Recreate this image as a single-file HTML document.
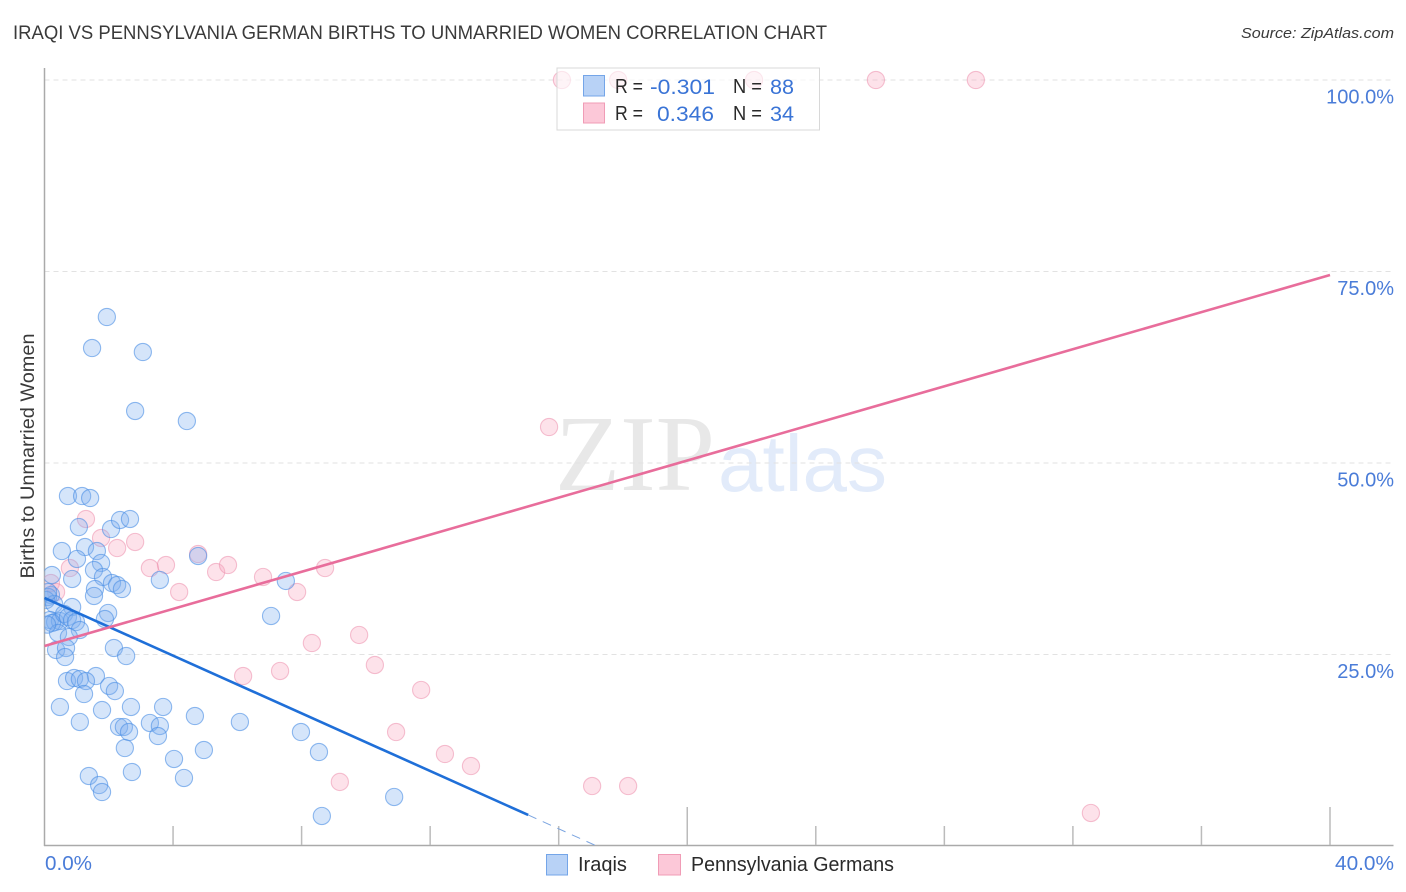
<!DOCTYPE html>
<html lang="en">
<head>
<meta charset="utf-8">
<title>Iraqi vs Pennsylvania German Births to Unmarried Women Correlation Chart</title>
<style>
html,body{margin:0;padding:0;background:#fff;width:1406px;height:892px;overflow:hidden}
svg{display:block;font-family:"Liberation Sans",Arial,sans-serif}
</style>
</head>
<body>
<svg id="chart" width="1406" height="892" viewBox="0 0 1406 892" xmlns="http://www.w3.org/2000/svg">
  <defs>
    <clipPath id="plot-clip"><rect x="44.5" y="60" width="1349" height="786"/></clipPath>
  </defs>
  <rect x="0" y="0" width="1406" height="892" fill="#fff"/>
  <text x="13" y="39" font-size="19" fill="#3a3a3a" textLength="814" lengthAdjust="spacingAndGlyphs">IRAQI VS PENNSYLVANIA GERMAN BIRTHS TO UNMARRIED WOMEN CORRELATION CHART</text>
  <text x="1241" y="38" font-size="15" font-style="italic" fill="#3a3a3a" textLength="153" lengthAdjust="spacingAndGlyphs">Source: ZipAtlas.com</text>
  <g>
    <text x="555" y="490" font-family="'Liberation Serif',serif" font-size="108" fill="#e8e8e8" textLength="160" lengthAdjust="spacingAndGlyphs">ZIP</text>
    <text x="718" y="491" font-size="80" fill="#e2ebfa" textLength="169" lengthAdjust="spacingAndGlyphs">atlas</text>
  </g>
  <g id="grid"></g>
  <g id="axes"></g>
  <g id="marks" clip-path="url(#plot-clip)"></g>
  <g id="trends"></g>
  <g id="labels"></g>
  <text x="0" y="0" transform="translate(34,456) rotate(-90)" font-size="19.5" fill="#3a3a3a" text-anchor="middle" textLength="245" lengthAdjust="spacingAndGlyphs">Births to Unmarried Women</text>

  <g>
    <rect x="557" y="68" width="262.5" height="62" fill="#fff" fill-opacity="0.62" stroke="#d8d8d8" stroke-width="1"/>
    <rect x="583.5" y="75.5" width="21" height="20.5" fill="#b8d2f6" stroke="#74a5e8"/>
    <rect x="583.5" y="103" width="21" height="20" fill="#fcc8d8" stroke="#f09cb6"/>
    <g font-size="20" fill="#2a2a2a">
      <text x="615" y="93" textLength="28" lengthAdjust="spacingAndGlyphs">R =</text>
      <text x="615" y="120" textLength="28" lengthAdjust="spacingAndGlyphs">R =</text>
      <text x="733" y="93" textLength="29" lengthAdjust="spacingAndGlyphs">N =</text>
      <text x="733" y="120" textLength="29" lengthAdjust="spacingAndGlyphs">N =</text>
    </g>
    <g font-size="21" fill="#3a74d6">
      <text x="650" y="94" textLength="65" lengthAdjust="spacingAndGlyphs">-0.301</text>
      <text x="657" y="121" textLength="57" lengthAdjust="spacingAndGlyphs">0.346</text>
      <text x="770" y="94" textLength="24" lengthAdjust="spacingAndGlyphs">88</text>
      <text x="770" y="121" textLength="24" lengthAdjust="spacingAndGlyphs">34</text>
    </g>
  </g>

  <g>
    <g>
      <rect x="546.5" y="854.5" width="21" height="20.5" fill="#b8d2f6" stroke="#74a5e8"/>
      <text x="578" y="871" font-size="20" fill="#2a2a2a">Iraqis</text>
    </g>
    <g>
      <rect x="658.5" y="854.5" width="22" height="20.5" fill="#fcc8d8" stroke="#f09cb6"/>
      <text x="691" y="871" font-size="20" fill="#2a2a2a" textLength="203" lengthAdjust="spacingAndGlyphs">Pennsylvania Germans</text>
    </g>
  </g>
</svg>
<script>
const iraqiX = [1.94,1.48,3.06,2.82,4.43,0.73,1.17,1.42,1.07,2.07,2.35,2.66,0.54,1.26,1.63,1.01,1.76,1.54,0.23,0.86,1.82,2.10,2.26,2.41,1.57,1.54,3.59,4.78,7.51,7.05,0.20,0.11,0.05,0.86,1.98,1.88,0.30,0.17,0.33,0.48,0.23,0.61,0.73,0.86,0.98,1.10,0.42,0.76,0.11,2.16,2.54,0.36,0.67,0.64,1.60,0.70,0.92,1.10,1.29,2.01,2.19,1.23,0.48,1.79,2.69,3.69,1.10,2.32,2.47,2.63,3.28,3.59,3.53,4.68,6.08,7.98,8.54,2.50,4.03,4.96,1.38,1.70,1.79,2.72,4.34,8.63,10.88,0.08];
const iraqiY = [69.06,65.01,64.49,56.79,55.48,45.69,45.69,45.43,41.64,41.38,42.56,42.69,38.51,39.03,38.51,37.47,36.95,36.03,35.38,34.86,35.12,34.33,34.07,33.55,33.55,32.64,34.73,37.86,34.60,30.03,32.77,32.51,32.11,31.20,30.42,29.63,31.59,29.50,29.24,29.37,29.11,30.29,29.90,29.50,29.24,28.20,27.81,27.28,33.16,25.85,24.80,25.59,25.85,24.67,22.19,21.54,21.93,21.80,21.54,20.89,20.23,19.84,18.15,17.75,18.15,18.15,16.19,15.54,15.54,14.88,16.06,15.67,14.36,16.97,16.19,14.88,12.27,12.79,11.36,12.53,9.14,7.96,7.05,9.66,8.88,3.92,6.40,28.90];
const pennX = [16.10,17.85,22.08,25.87,28.98,15.70,1.29,1.76,2.26,2.82,3.28,3.78,4.19,4.78,5.34,5.71,6.80,7.86,8.73,0.79,0.20,0.36,6.18,7.33,8.32,10.28,11.72,10.94,9.19,9.79,12.46,13.27,17.04,18.16,32.56];
const pennY = [100,100,100,100,100,54.70,42.69,40.21,38.90,39.69,36.29,36.68,33.16,38.12,35.77,36.68,35.12,33.16,36.29,36.29,34.33,33.16,22.19,22.85,26.50,23.63,20.37,14.88,8.36,27.55,12.01,10.44,7.83,7.83,4.31];
const iraqiTrendX = [0, 15.05];
const iraqiTrendY = [32.38, 4.05];
const iraqiDashX = [15.05, 17.13];
const iraqiDashY = [4.05, 0.1];
const pennTrendX = [0, 40];
const pennTrendY = [26.11, 74.54];
const yTicks = [25, 50, 75, 100];
const yTickLabels = ['25.0%', '50.0%', '75.0%', '100.0%'];
const xTicks = [4, 8, 12, 16, 20, 24, 28, 32, 36, 40];
const xMajorTicks = [20, 40];
const xEndLabels = ['0.0%', '40.0%'];

const NS = 'http://www.w3.org/2000/svg';
const X0 = 44.5, X40 = 1330, Y0 = 846, Y100 = 80;
function sx(v) { return X0 + (X40 - X0) * v / 40; }
function sy(v) { return Y0 - (Y0 - Y100) * v / 100; }
function make(tag, parent, attrs) {
  const el = document.createElementNS(NS, tag);
  for (const k in attrs) el.setAttribute(k, attrs[k]);
  parent.appendChild(el);
  return el;
}

const grid = document.getElementById('grid');
yTicks.forEach(function (t) {
  const l = make('line', grid, { x1: X0, x2: 1393, y1: sy(t), y2: sy(t), stroke: '#e2e2e2', 'stroke-width': 1, 'stroke-dasharray': '5 4' });
  
  
});

const axes = document.getElementById('axes');
const yAxis = make('line', axes, { x1: X0, x2: X0, y1: 68, y2: 846, stroke: '#aaa', 'stroke-width': 1.5 });


const xAxis = make('line', axes, { x1: 44, x2: 1393.5, y1: 845.5, y2: 845.5, stroke: '#aaa', 'stroke-width': 1.5 });


xTicks.forEach(function (t) {
  const top = xMajorTicks.indexOf(t) >= 0 ? 807 : 826;
  const l = make('line', axes, { x1: sx(t), x2: sx(t), y1: top, y2: 845, stroke: '#bbb', 'stroke-width': 1.5 });
  
  
});

const marks = document.getElementById('marks');
pennX.forEach(function (v, i) {
  const c = make('circle', marks, { cx: sx(v), cy: sy(pennY[i]), r: 8.6, fill: '#f8a8c0', 'fill-opacity': 0.33, stroke: '#ec8fad', 'stroke-opacity': 0.55, 'stroke-width': 1.1 });
  
  
});
iraqiX.forEach(function (v, i) {
  const c = make('circle', marks, { cx: sx(v), cy: sy(iraqiY[i]), r: 8.6, fill: '#80aff0', 'fill-opacity': 0.33, stroke: '#4a8ee4', 'stroke-opacity': 0.6, 'stroke-width': 1.1 });
  
  
});

const trends = document.getElementById('trends');
const blueDash = make('line', trends, { x1: sx(iraqiDashX[0]), y1: sy(iraqiDashY[0]), x2: sx(iraqiDashX[1]), y2: sy(iraqiDashY[1]), stroke: '#7aa4e0', 'stroke-width': 1, 'stroke-dasharray': '9 7' });


const blueLine = make('line', trends, { x1: sx(iraqiTrendX[0]), y1: sy(iraqiTrendY[0]), x2: sx(iraqiTrendX[1]), y2: sy(iraqiTrendY[1]), stroke: '#1f6fd8', 'stroke-width': 2.6 });


const pinkLine = make('line', trends, { x1: sx(pennTrendX[0]), y1: sy(pennTrendY[0]), x2: sx(pennTrendX[1]), y2: sy(pennTrendY[1]), stroke: '#e86d9b', 'stroke-width': 2.6 });



const labels = document.getElementById('labels');
yTicks.forEach(function (t, i) {
  const el = make('text', labels, { x: 1394, y: sy(t) + 23.5, 'font-size': 20, fill: '#4a7cd8', 'text-anchor': 'end' });
  el.textContent = yTickLabels[i];
  
  
});
const x0Label = make('text', labels, { x: 45, y: 870, 'font-size': 20, fill: '#4a7cd8', textLength: 47, lengthAdjust: 'spacingAndGlyphs' });
x0Label.textContent = xEndLabels[0];


const x40Label = make('text', labels, { x: 1335, y: 870, 'font-size': 20, fill: '#4a7cd8', textLength: 59, lengthAdjust: 'spacingAndGlyphs' });
x40Label.textContent = xEndLabels[1];


</script>
</body>
</html>
